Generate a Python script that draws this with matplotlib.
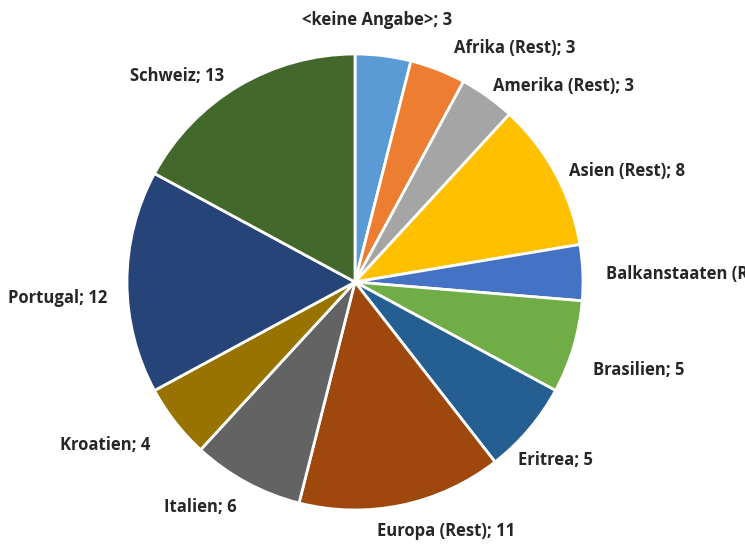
import matplotlib
matplotlib.use("Agg")
import matplotlib.pyplot as plt
import numpy as np

categories = ["<keine Angabe>", "Afrika (Rest)", "Amerika (Rest)", "Asien (Rest)",
              "Balkanstaaten (Rest)", "Brasilien", "Eritrea", "Europa (Rest)",
              "Italien", "Kroatien", "Portugal", "Schweiz"]
values = [3, 3, 3, 8, 3, 5, 5, 11, 6, 4, 12, 13]
colors = ["#5B9BD5", "#ED7D31", "#A5A5A5", "#FFC000", "#4472C4", "#70AD47",
          "#255E91", "#9E480E", "#636363", "#997300", "#264478", "#43682B"]

# fine adjustment of individual data labels (pixels, right / down)
label_nudge = {
    "<keine Angabe>": (-18, -4), "Afrika (Rest)": (12, -5),
    "Amerika (Rest)": (4, 4), "Asien (Rest)": (0, 13),
    "Balkanstaaten (Rest)": (0, 3), "Brasilien": (0, 14),
    "Eritrea": (-20, 10), "Europa (Rest)": (25, -5),
    "Italien": (-18, -3), "Kroatien": (-16, 3),
    "Portugal": (3, 16), "Schweiz": (-25, 17),
}

W, H = 745, 544
fig = plt.figure(figsize=(W / 100, H / 100), dpi=100)
cx, cy, r = 355, 282, 228
ax = fig.add_axes([(cx - r) / W, (H - cy - r) / H, 2 * r / W, 2 * r / H])

wedges, _ = ax.pie(values, colors=colors, startangle=90, counterclock=False,
                   radius=1.0,
                   wedgeprops=dict(edgecolor="white", linewidth=2))
ax.set_xlim(-1, 1)
ax.set_ylim(-1, 1)
ax.set_aspect("equal")
ax.axis("off")

LABEL_DIST = 1.1   # anchor radius, in pie radii
PAD = 9            # minimum gap between neighbouring labels, pixels

fig.canvas.draw()
renderer = fig.canvas.get_renderer()
placed = []
for w, cat, v in zip(wedges, categories, values):
    t = ax.text(0, 0, f"{cat}; {v}", ha="center", va="center",
                fontsize=12, fontweight="bold",
                family=["Open Sans", "DejaVu Sans"],
                color="#262626", clip_on=False)
    bb = t.get_window_extent(renderer)
    tw, th = bb.width, bb.height
    # walk clockwise from the wedge middle until the label clears its neighbour
    ang = (w.theta1 + w.theta2) / 2
    while True:
        a = np.deg2rad(ang)
        ux, uy = np.cos(a), np.sin(a)
        px = LABEL_DIST * r * ux + ux * tw / 2
        py = LABEL_DIST * r * uy + uy * th / 2
        box = (px - tw / 2, py - th / 2, px + tw / 2, py + th / 2)
        clash = False
        if placed:
            b = placed[-1]
            if (box[0] < b[2] and box[2] > b[0] and
                    box[1] < b[3] + PAD and box[3] + PAD > b[1]):
                clash = True
        if not clash:
            break
        ang -= 1
    placed.append(box)
    nx, ny = label_nudge.get(cat, (0, 0))
    t.set_position(((px + nx) / r, (py - ny) / r))

fig.savefig("out.png", dpi=100, facecolor="white")
